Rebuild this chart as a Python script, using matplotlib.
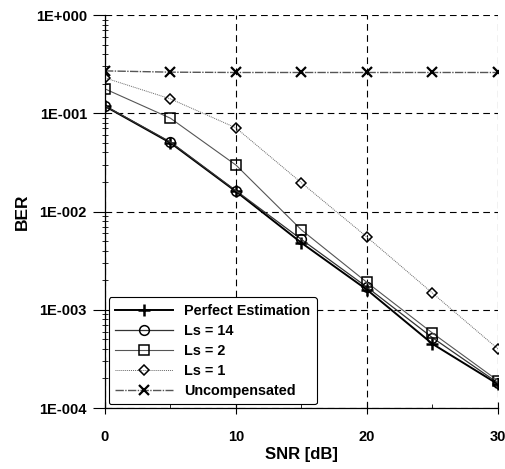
import numpy as np
import matplotlib.pyplot as plt
from matplotlib.ticker import FixedLocator, LogLocator, NullFormatter

snr = [0, 5, 10, 15, 20, 25, 30]

ber_perfect = [0.118, 0.050, 0.0160, 0.0048, 0.00160, 0.00045, 0.000175]
ber_ls14 = [0.119, 0.051, 0.0163, 0.0052, 0.00170, 0.00052, 0.000180]
ber_ls2 = [0.177, 0.089, 0.0297, 0.0065, 0.00190, 0.00058, 0.000190]
ber_ls1 = [0.229, 0.140, 0.0710, 0.0196, 0.00550, 0.00148, 0.000400]
ber_uncomp = [0.270, 0.262, 0.260, 0.260, 0.260, 0.260, 0.260]

labels = ["Perfect Estimation", "Ls = 14", "Ls = 2", "Ls = 1", "Uncompensated"]
ytick_vals = [1e-4, 1e-3, 1e-2, 1e-1, 1e0]
ytick_labels = ["1E-004", "1E-003", "1E-002", "1E-001", "1E+000"]

plt.rcParams['font.family'] = ['Liberation Sans', 'DejaVu Sans']

fig = plt.figure(figsize=(5.06, 4.69), dpi=100)
ax = fig.add_axes([0.2075, 0.130, 0.7765, 0.838])

ax.plot(snr, ber_perfect, color="black", lw=1.4, marker="+", ms=9,
        mec="black", mew=1.8, label=labels[0])
ax.plot(snr, ber_ls14, color="#333333", lw=0.9, marker="o", ms=7,
        mfc="none", mec="black", mew=1.1, label=labels[1])
ax.plot(snr, ber_ls2, color="#555555", lw=0.8, marker="s", ms=7.5,
        mfc="none", mec="black", mew=1.1, label=labels[2])
ax.plot(snr, ber_ls1, color="#666666", lw=0.7, ls=(0, (1, 1)), marker="D", ms=5.5,
        mfc="none", mec="black", mew=1.1, label=labels[3])
ax.plot(snr, ber_uncomp, color="#555555", lw=1.0, ls=(0, (6, 1, 1, 1)), marker="x", ms=6.5,
        mfc="none", mec="black", mew=1.6, label=labels[4])

ax.set_yscale("log")
ax.set_xlim(0, 30)
ax.set_ylim(1e-4, 1)

ax.xaxis.set_major_locator(FixedLocator([0, 10, 20, 30]))
ax.xaxis.set_minor_locator(FixedLocator([5, 15, 25]))
ax.yaxis.set_major_locator(FixedLocator(ytick_vals))
ax.set_yticklabels(ytick_labels)
ax.yaxis.set_minor_locator(LogLocator(base=10, subs=np.arange(2, 10)))
ax.yaxis.set_minor_formatter(NullFormatter())

ax.tick_params(axis="both", which="major", labelsize=10.5, width=0.8)
ax.tick_params(axis="y", which="major", direction="out", length=9, pad=4)
ax.tick_params(axis="y", which="minor", direction="inout", length=5, width=0.6)
ax.tick_params(axis="x", which="major", direction="inout", length=8, pad=12)
ax.tick_params(axis="x", which="minor", direction="in", length=3, width=0.6)
for lab in ax.get_xticklabels() + ax.get_yticklabels():
    lab.set_fontweight("bold")

ax.grid(True, which="major", color="black", ls=(0, (6, 4)), lw=0.8)
for side in ["top", "right"]:
    ax.spines[side].set_visible(False)
ax.spines["left"].set_linewidth(0.9)
ax.spines["bottom"].set_linewidth(0.9)

ax.set_xlabel("SNR [dB]", fontsize=12, fontweight="bold", labelpad=2)
ax.set_ylabel("BER", fontsize=12.5, fontweight="bold", labelpad=4)

leg = ax.legend(loc="lower left", prop={"weight": "bold", "size": 10.4},
                frameon=True, fancybox=True, edgecolor="black", framealpha=1,
                handlelength=4.0, borderaxespad=0.25, labelspacing=0.42,
                borderpad=0.45)
leg.get_frame().set_linewidth(0.8)

fig.savefig("out.png", dpi=100)
